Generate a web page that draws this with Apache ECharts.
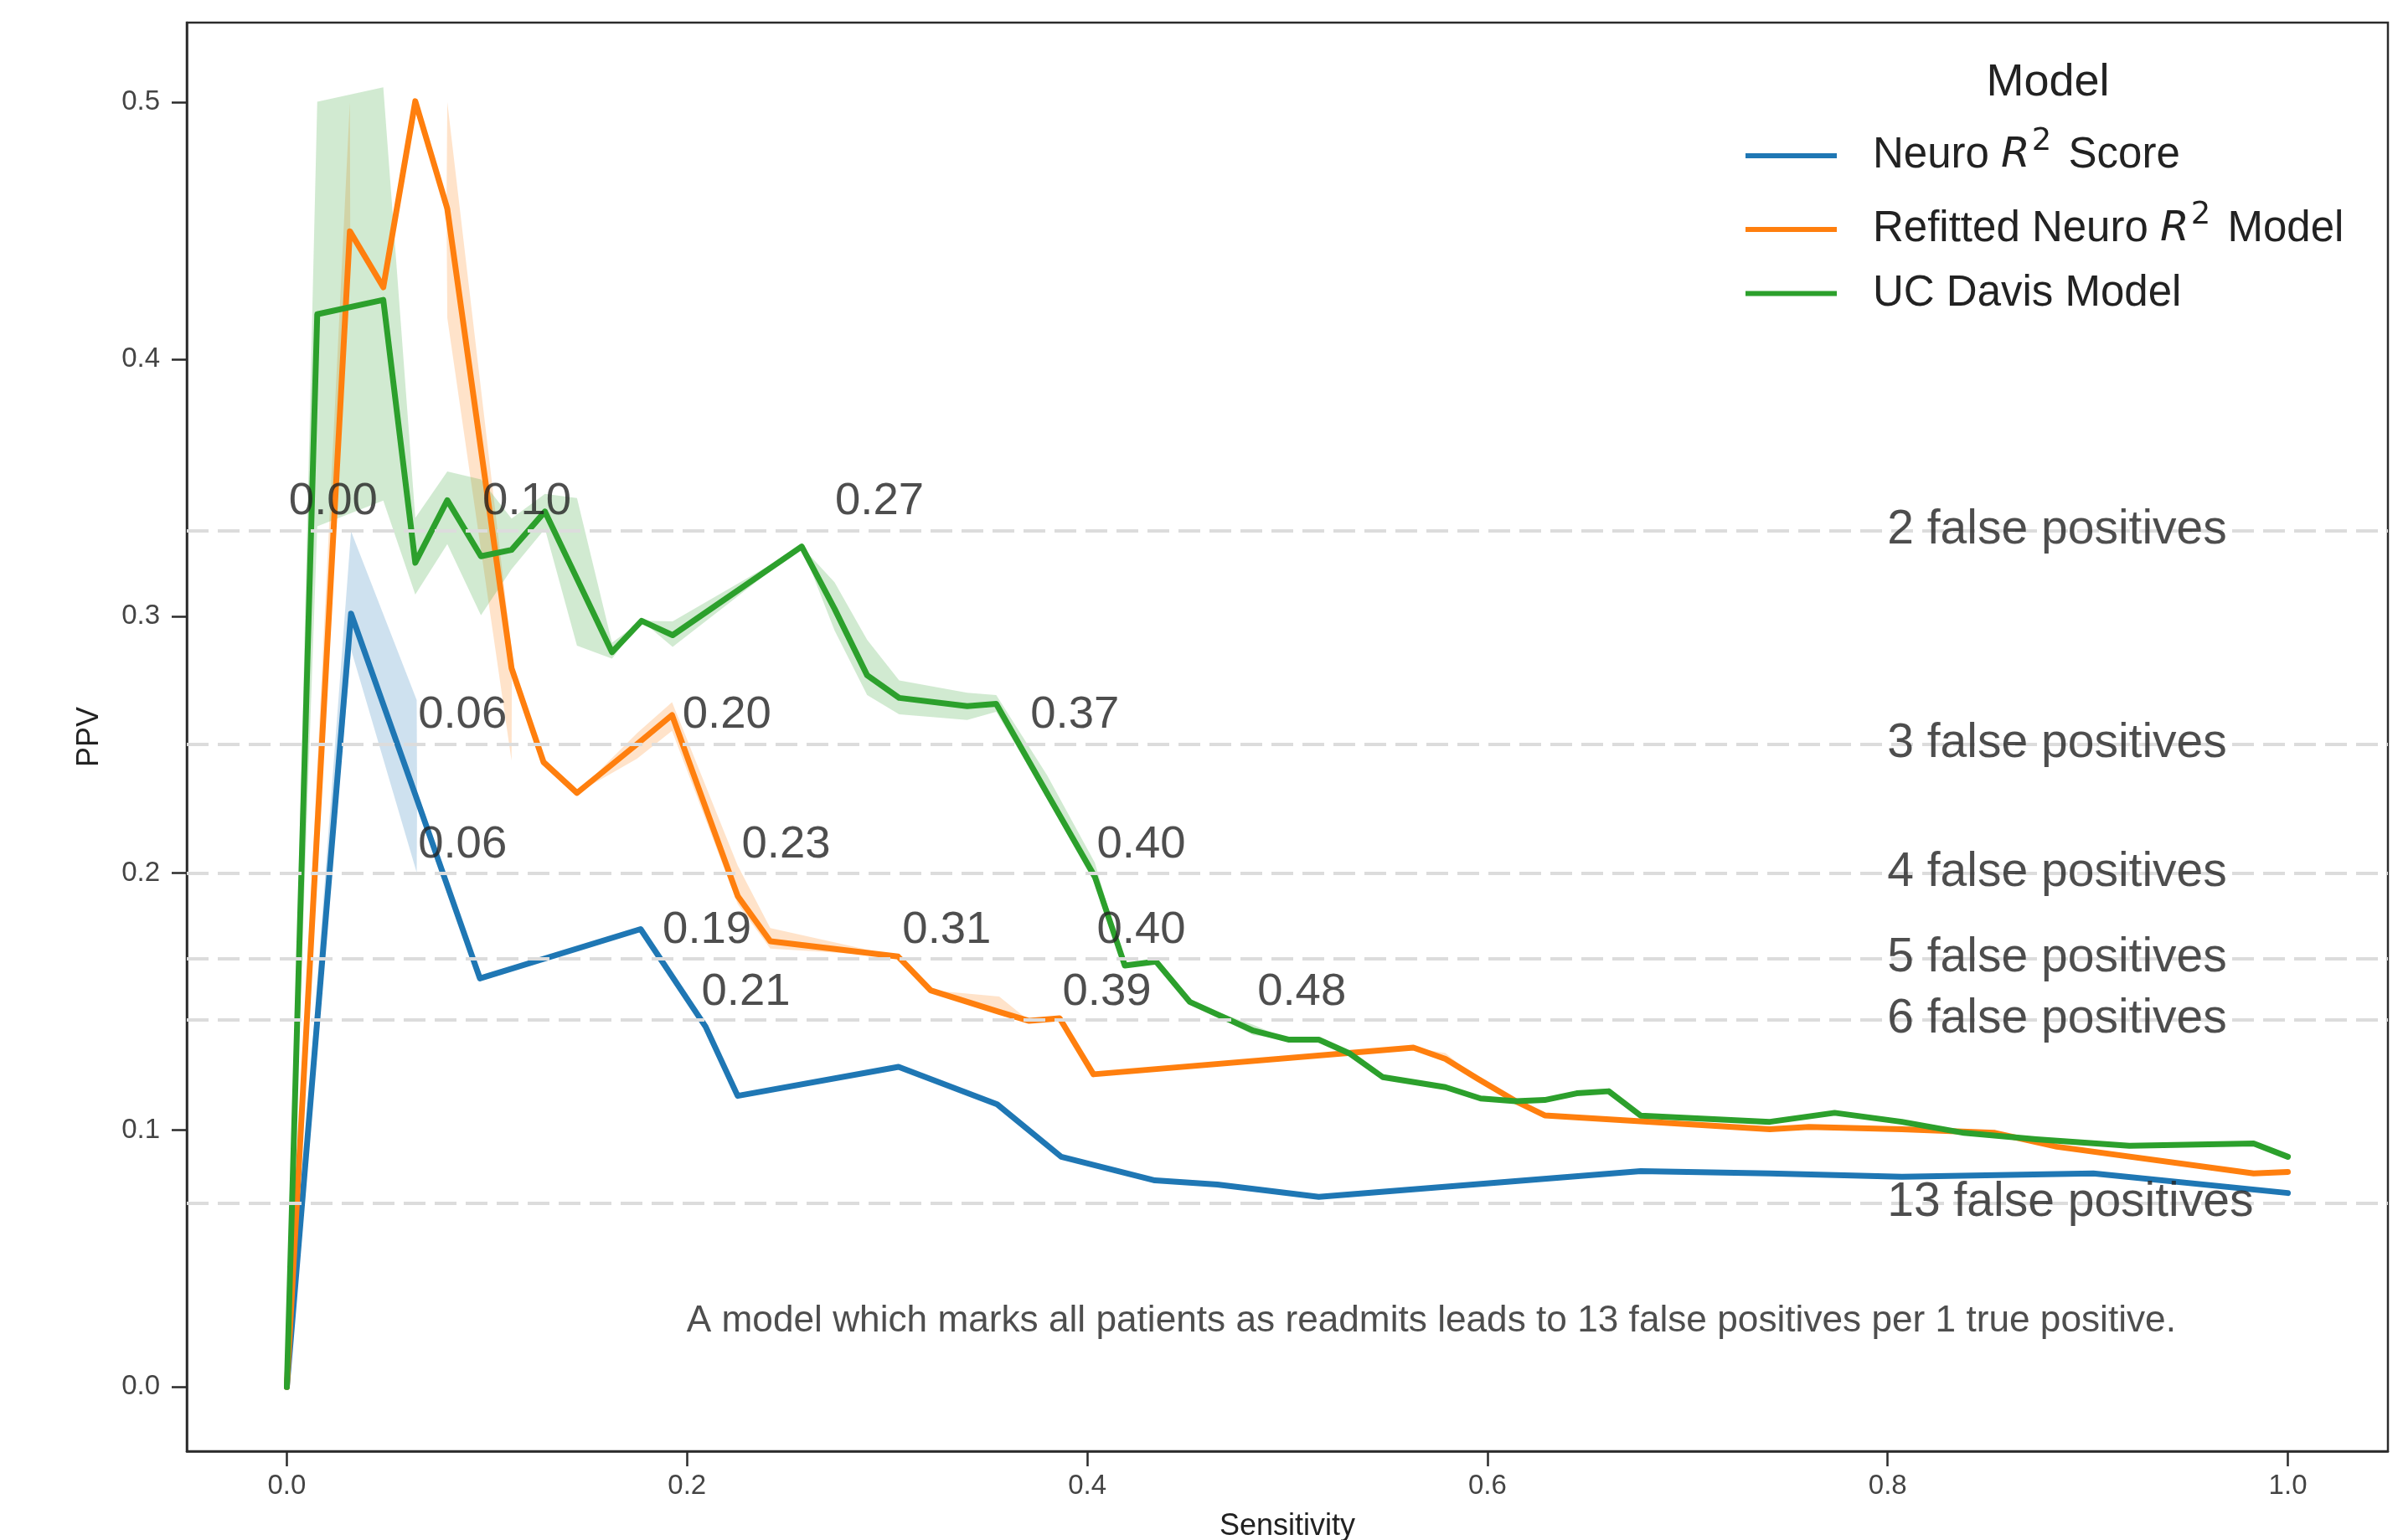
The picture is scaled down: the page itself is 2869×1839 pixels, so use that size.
<!DOCTYPE html>
<html>
<head>
<meta charset="utf-8">
<script src="https://cdn.jsdelivr.net/npm/echarts@6/dist/echarts.min.js"></script>
<style>
html,body{margin:0;padding:0;background:#ffffff;}
#chart{width:2869px;height:1839px;}
</style>
</head>
<body>
<div id="chart"></div>
<script>
// ---------- data ----------
const neuroX  = [0.0, 0.0321, 0.0649, 0.0651, 0.0965, 0.1768, 0.2093, 0.2253, 0.3057, 0.3550, 0.3870, 0.4338, 0.4650, 0.5157, 0.6766, 0.7411, 0.8071, 0.9028, 1.0];
const neuroY  = [0.0, 0.3010, 0.2290, 0.2286, 0.1590, 0.1782, 0.1402, 0.1133, 0.1246, 0.1100, 0.0896, 0.0804, 0.0788, 0.0740, 0.0840, 0.0831, 0.0818, 0.0831, 0.0755];
const neuroLo = [0.0, 0.2870, 0.2002, 0.2286, 0.1590, 0.1782, 0.1402, 0.1133, 0.1246, 0.1100, 0.0896, 0.0804, 0.0788, 0.0740, 0.0840, 0.0831, 0.0818, 0.0831, 0.0755];
const neuroHi = [0.0, 0.3330, 0.2673, 0.2286, 0.1590, 0.1782, 0.1402, 0.1133, 0.1246, 0.1100, 0.0896, 0.0804, 0.0788, 0.0740, 0.0840, 0.0831, 0.0818, 0.0831, 0.0755];

const refitX  = [0.0, 0.0315, 0.0317, 0.0482, 0.0642, 0.0798, 0.0802, 0.1123, 0.1125, 0.1283, 0.1450, 0.1750, 0.1925, 0.2253, 0.2416, 0.3055, 0.3217, 0.3560, 0.3710, 0.3862, 0.4031, 0.5630, 0.5790, 0.5950, 0.6142, 0.6286, 0.6766, 0.7411, 0.7606, 0.8071, 0.8536, 0.8846, 0.9829, 1.0];
const refitY  = [0.0, 0.4498, 0.4495, 0.4280, 0.5004, 0.4596, 0.4585, 0.2798, 0.2793, 0.2432, 0.2312, 0.2502, 0.2615, 0.1911, 0.1735, 0.1675, 0.1544, 0.1460, 0.1425, 0.1435, 0.1217, 0.1321, 0.1277, 0.1200, 0.1112, 0.1057, 0.1034, 0.1003, 0.1012, 0.1003, 0.0989, 0.0935, 0.0831, 0.0837];
const refitLo = [0.0, 0.4498, 0.4495, 0.4280, 0.5004, 0.4596, 0.4160, 0.2437, 0.2793, 0.2432, 0.2312, 0.2445, 0.2554, 0.1880, 0.1706, 0.1675, 0.1544, 0.1450, 0.1425, 0.1435, 0.1217, 0.1321, 0.1270, 0.1200, 0.1112, 0.1057, 0.1034, 0.1003, 0.1012, 0.1003, 0.0989, 0.0935, 0.0831, 0.0837];
const refitHi = [0.0, 0.5000, 0.4495, 0.4280, 0.5004, 0.4596, 0.5000, 0.2870, 0.2793, 0.2432, 0.2312, 0.2545, 0.2665, 0.2030, 0.1786, 0.1675, 0.1544, 0.1520, 0.1425, 0.1435, 0.1217, 0.1321, 0.1300, 0.1200, 0.1112, 0.1057, 0.1034, 0.1003, 0.1012, 0.1003, 0.0989, 0.0935, 0.0831, 0.0837];

const ucdX  = [0.0, 0.0152, 0.0482, 0.0642, 0.0802, 0.0970, 0.1123, 0.1290, 0.1450, 0.1625, 0.1773, 0.1928, 0.2573, 0.2737, 0.2900, 0.3060, 0.3400, 0.3545, 0.3800, 0.4038, 0.4188, 0.4344, 0.4512, 0.4829, 0.5005, 0.5157, 0.5309, 0.5477, 0.5790, 0.5966, 0.6142, 0.6286, 0.6446, 0.6606, 0.6766, 0.7411, 0.7735, 0.8071, 0.8381, 0.8743, 0.9208, 0.9829, 1.0];
const ucdY  = [0.0, 0.4175, 0.4231, 0.3208, 0.3451, 0.3233, 0.3258, 0.3407, 0.3146, 0.2860, 0.2982, 0.2926, 0.3271, 0.3029, 0.2770, 0.2682, 0.2650, 0.2659, 0.2309, 0.1986, 0.1640, 0.1656, 0.1499, 0.1387, 0.1352, 0.1352, 0.1299, 0.1206, 0.1167, 0.1123, 0.1112, 0.1117, 0.1143, 0.1151, 0.1056, 0.1032, 0.1067, 0.1032, 0.0989, 0.0964, 0.0939, 0.0948, 0.0896];
const ucdLo = [0.0, 0.3350, 0.3450, 0.3084, 0.3280, 0.3003, 0.3183, 0.3340, 0.2885, 0.2835, 0.2982, 0.2880, 0.3271, 0.2945, 0.2693, 0.2618, 0.2596, 0.2628, 0.2290, 0.1960, 0.1640, 0.1656, 0.1499, 0.1370, 0.1352, 0.1352, 0.1299, 0.1206, 0.1167, 0.1123, 0.1112, 0.1117, 0.1143, 0.1151, 0.1056, 0.1032, 0.1067, 0.1032, 0.0989, 0.0964, 0.0939, 0.0948, 0.0896];
const ucdHi = [0.0, 0.5002, 0.5058, 0.3382, 0.3563, 0.3532, 0.3380, 0.3476, 0.3460, 0.2897, 0.2982, 0.2980, 0.3271, 0.3132, 0.2908, 0.2750, 0.2702, 0.2693, 0.2380, 0.2040, 0.1640, 0.1656, 0.1499, 0.1410, 0.1352, 0.1352, 0.1299, 0.1206, 0.1167, 0.1123, 0.1112, 0.1117, 0.1143, 0.1151, 0.1056, 0.1032, 0.1067, 0.1032, 0.0989, 0.0964, 0.0939, 0.0948, 0.0896];

const seriesNames = ['Neuro R2 Score', 'Refitted Neuro R2 Model', 'UC Davis Model'];

const xTicks = [0.0, 0.2, 0.4, 0.6, 0.8, 1.0];
const xTickLabels = ['0.0', '0.2', '0.4', '0.6', '0.8', '1.0'];
const yTicks = [0.0, 0.1, 0.2, 0.3, 0.4, 0.5];
const yTickLabels = ['0.0', '0.1', '0.2', '0.3', '0.4', '0.5'];

// reference lines: n false positives per 1 true positive -> PPV = 1/(n+1)
const falsePosCounts = [2, 3, 4, 5, 6, 13];
const falsePosLabels = ['2 false positives', '3 false positives', '4 false positives', '5 false positives', '6 false positives', '13 false positives'];
const falsePosLabelX = 0.8;

// threshold annotations
const annTexts = ['0.00', '0.10', '0.27', '0.06', '0.20', '0.37', '0.06', '0.23', '0.40', '0.19', '0.31', '0.40', '0.21', '0.39', '0.48'];
const annX = [0.0012, 0.0980, 0.2742, 0.0658, 0.1979, 0.3718, 0.0658, 0.2275, 0.4050, 0.1880, 0.3078, 0.4050, 0.2074, 0.3878, 0.4852];
const annY = [0.3444, 0.3444, 0.3444, 0.2614, 0.2614, 0.2614, 0.2108, 0.2108, 0.2108, 0.1777, 0.1777, 0.1777, 0.1533, 0.1533, 0.1533];

const noteText = 'A model which marks all patients as readmits leads to 13 false positives per 1 true positive.';
const noteX = 0.2;
const noteY = 0.0255;

// ---------- chart ----------
const COLORS = ['#1f77b4', '#ff7f0e', '#2ca02c'];
const BANDS = ['rgba(31,119,180,0.22)', 'rgba(255,127,14,0.22)', 'rgba(44,160,44,0.22)'];
const TXT = '#222222';
const AXC = '#2b2b2b';
const FONT = 'Liberation Sans';

function bandSeries(xs, lo, hi, fill) {
  return {
    type: 'custom', silent: true, z: 1,
    data: xs.map((x, i) => [x, lo[i], hi[i]]),
    encode: {x: 0, y: [1, 2]},
    renderItem: function (params, api) {
      if (params.dataIndex !== 0) return null;
      const pts = [];
      for (let i = 0; i < xs.length; i++) pts.push(api.coord([xs[i], hi[i]]));
      for (let i = xs.length - 1; i >= 0; i--) pts.push(api.coord([xs[i], lo[i]]));
      return {type: 'polygon', shape: {points: pts}, style: {fill: fill, stroke: null}};
    }
  };
}

function lineSeries(name, xs, ys, color) {
  return {
    type: 'line', name: name, z: 3,
    data: xs.map((x, i) => [x, ys[i]]),
    showSymbol: false, symbol: 'none', silent: true,
    lineStyle: {color: color, width: 7, join: 'round', cap: 'round'},
    itemStyle: {color: color},
    emphasis: {disabled: true}
  };
}

function textScatter(points, texts, fontSize, z, extra) {
  return Object.assign({
    type: 'scatter', silent: true, z: z,
    symbolSize: 1,
    itemStyle: {color: 'rgba(0,0,0,0)'},
    emphasis: {disabled: true},
    data: points.map((p, i) => ({
      value: p,
      label: {formatter: texts[i]}
    })),
    label: {
      show: true, position: [0, 0], align: 'left', verticalAlign: 'middle',
      fontFamily: FONT, fontSize: fontSize, color: TXT
    }
  }, extra || {});
}

const fpY = falsePosCounts.map(n => 1 / (n + 1));

const richStyles = {
  n: {fontFamily: FONT, fontSize: 51, color: TXT, lineHeight: 52},
  i: {fontFamily: 'DejaVu Sans', fontStyle: 'italic', fontSize: 50, color: TXT, lineHeight: 52},
  s: {fontFamily: 'DejaVu Sans', fontSize: 37, color: TXT, lineHeight: 70, verticalAlign: 'top', padding: [0, 6, 0, 2]}
};
const legendText = {
  'Neuro R2 Score': '{n|Neuro }{i|R}{s|2}{n| Score}',
  'Refitted Neuro R2 Model': '{n|Refitted Neuro }{i|R}{s|2}{n| Model}',
  'UC Davis Model': '{n|UC Davis Model}'
};
const legendTops = [151, 239, 325];

function makeLegend(idx) {
  return {
    data: [{name: seriesNames[idx], icon: 'rect'}],
    orient: 'vertical', left: 2084, top: legendTops[idx], padding: 0,
    itemWidth: 109, itemHeight: 6, selectedMode: false,
    formatter: function (name) { return legendText[name]; },
    textStyle: {fontFamily: FONT, fontSize: 51, color: TXT, padding: [0, 0, 0, 38], rich: richStyles}
  };
}

const option = {
  animation: false,
  backgroundColor: '#ffffff',
  title: {
    text: 'Model', left: 2445, top: 72, textAlign: 'center', padding: 0,
    textStyle: {fontFamily: FONT, fontSize: 54, fontWeight: 'normal', color: TXT}
  },
  legend: [makeLegend(0), makeLegend(1), makeLegend(2)],
  grid: {
    left: 223, top: 27, right: 18, bottom: 106,
    containLabel: false, outerBoundsMode: 'none',
    show: true, borderColor: AXC, borderWidth: 2.5, backgroundColor: 'transparent'
  },
  xAxis: {
    type: 'value', min: -0.05, max: 1.05,
    name: 'Sensitivity', nameLocation: 'middle', nameGap: 72,
    nameTextStyle: {fontFamily: FONT, fontSize: 36, color: TXT},
    axisLine: {show: true, onZero: false, lineStyle: {color: AXC, width: 2.5}},
    axisTick: {show: true, inside: false, length: 18, lineStyle: {color: AXC, width: 2.5}, customValues: xTicks},
    axisLabel: {show: true, margin: 25, fontFamily: FONT, fontSize: 33, color: '#444444',
      customValues: xTicks,
      formatter: function (v) { const k = xTicks.findIndex(t => Math.abs(t - v) < 1e-9); return k >= 0 ? xTickLabels[k] : ''; }},
    splitLine: {show: false}
  },
  yAxis: {
    type: 'value', min: -0.025, max: 0.531,
    name: 'PPV', nameLocation: 'middle', nameGap: 98, nameRotate: 90,
    nameTextStyle: {fontFamily: FONT, fontSize: 36, color: TXT},
    axisLine: {show: true, onZero: false, lineStyle: {color: AXC, width: 2.5}},
    axisTick: {show: true, inside: false, length: 18, lineStyle: {color: AXC, width: 2.5}, customValues: yTicks},
    axisLabel: {show: true, margin: 32, fontFamily: FONT, fontSize: 33, color: '#444444',
      customValues: yTicks,
      formatter: function (v) { const k = yTicks.findIndex(t => Math.abs(t - v) < 1e-9); return k >= 0 ? yTickLabels[k] : ''; }},
    splitLine: {show: false}
  },
  series: [
    bandSeries(neuroX, neuroLo, neuroHi, BANDS[0]),
    bandSeries(refitX, refitLo, refitHi, BANDS[1]),
    bandSeries(ucdX, ucdLo, ucdHi, BANDS[2]),
    textScatter(fpY.map(y => [falsePosLabelX, y]), falsePosLabels, 57, 5, {
      markLine: {
        silent: true, symbol: ['none', 'none'], animation: false, precision: 10,
        label: {show: false},
        lineStyle: {type: [26, 11], color: '#dcdcdc', width: 4},
        emphasis: {disabled: true},
        data: fpY.map(y => ({yAxis: y}))
      }
    }),
    lineSeries(seriesNames[0], neuroX, neuroY, COLORS[0]),
    lineSeries(seriesNames[1], refitX, refitY, COLORS[1]),
    lineSeries(seriesNames[2], ucdX, ucdY, COLORS[2]),
    textScatter(annX.map((x, i) => [x, annY[i]]), annTexts, 54.5, 6),
    textScatter([[noteX, noteY]], [noteText], 44.2, 6)
  ]
};

const chart = echarts.init(document.getElementById('chart'), null, {renderer: 'canvas', width: 2869, height: 1839});
chart.setOption(option);
</script>
</body>
</html>
